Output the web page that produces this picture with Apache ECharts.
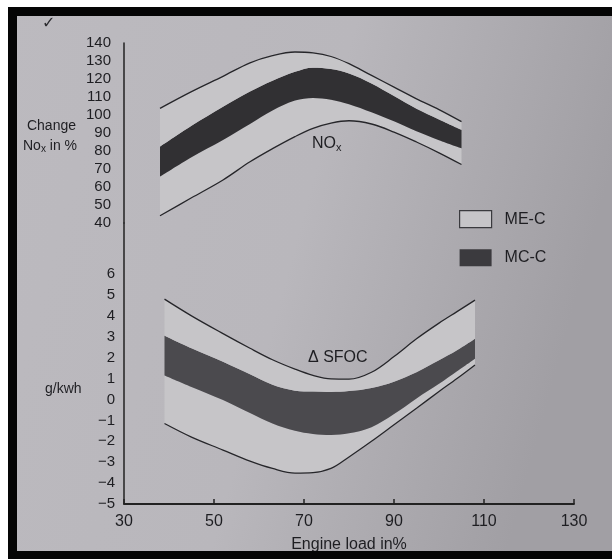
<!DOCTYPE html>
<html>
<head>
<meta charset="utf-8">
<script src="https://cdn.jsdelivr.net/npm/echarts@6/dist/echarts.min.js"></script>
<style>
html,body{margin:0;padding:0;background:#ffffff;}
#chart{width:612px;height:559px;}
</style>
</head>
<body>
<div id="chart"></div>
<script>
// ---- data ----
const xTickLabels = [30, 50, 70, 90, 110, 130];
const noxTicks = [40, 50, 60, 70, 80, 90, 100, 110, 120, 130, 140];
const sfocTicks = [-5, -4, -3, -2, -1, 0, 1, 2, 3, 4, 5, 6];

const xNox = [38, 45, 52, 58, 63, 68, 72, 76, 80, 85, 90, 95, 100, 105];
const noxUpper    = [103.7, 113, 121.5, 129, 133, 135, 134.5, 132.5, 128.5, 122, 115.5, 109, 103, 96.3];
const noxMcTop    = [82.4, 94, 104.6, 113, 119, 124, 126.3, 125.5, 123, 117.5, 110.5, 103.5, 97.5, 91.7];
const noxMcBottom = [65.7, 76.5, 86.1, 95, 102.5, 108, 109.5, 108.5, 106, 101.5, 96.5, 91, 86, 81.5];
const noxLower    = [44, 54, 63.9, 74, 81.3, 88, 92.6, 95.5, 96.8, 95, 90.5, 85, 79, 72.5];

const xSfoc = [39, 45, 52, 58, 63, 68, 72, 76, 80, 85, 90, 95, 100, 104, 108];
const sfocUpper    = [4.8, 4.0, 3.15, 2.45, 1.9, 1.45, 1.15, 0.98, 0.97, 1.3, 2.05, 2.9, 3.65, 4.2, 4.75];
const sfocMcTop    = [3.05, 2.45, 1.8, 1.2, 0.7, 0.42, 0.38, 0.36, 0.4, 0.55, 0.85, 1.3, 1.87, 2.35, 2.9];
const sfocMcBottom = [1.15, 0.6, -0.03, -0.65, -1.15, -1.5, -1.65, -1.7, -1.62, -1.33, -0.7, 0.05, 0.75, 1.35, 1.95];
const sfocLower    = [-1.15, -1.8, -2.42, -2.95, -3.3, -3.52, -3.5, -3.3, -2.75, -2.0, -1.21, -0.42, 0.38, 1.0, 1.65];

const seriesNames = ['ME-C', 'MC-C'];

// ---- styling ----
const FONT = "'Liberation Sans', Arial, sans-serif";
const LIGHT = '#c6c5c8';
const TXT = '#1e1e22';

function pairs(xs, vs) { return xs.map((x, i) => [x, vs[i]]); }
// stacked data: value first (dimension 0 gets stacked), x second
function stackPairs(xs, vs) { return xs.map((x, i) => [vs[i], x]); }
function diffs(hi, lo) { return hi.map((v, i) => +(v - lo[i]).toFixed(3)); }

function band(xs, lower, mcBottom, mcTop, upper, idx, dark) {
  const stack = 'band' + idx;
  const common = {
    type: 'line', xAxisIndex: idx, yAxisIndex: idx, stack: stack, stackStrategy: 'all',
    encode: { x: 1, y: 0 },
    smooth: 0.35, symbol: 'none', lineStyle: { width: 0, opacity: 0 }, silent: true
  };
  return [
    Object.assign({}, common, { data: stackPairs(xs, lower), itemStyle: { color: 'rgba(0,0,0,0)' } }),
    Object.assign({}, common, { name: 'ME-C', data: stackPairs(xs, diffs(mcBottom, lower)), itemStyle: { color: LIGHT }, areaStyle: { color: LIGHT, opacity: 1 } }),
    Object.assign({}, common, { name: 'MC-C', data: stackPairs(xs, diffs(mcTop, mcBottom)), itemStyle: { color: dark }, areaStyle: { color: dark, opacity: 1 } }),
    Object.assign({}, common, { name: 'ME-C', data: stackPairs(xs, diffs(upper, mcTop)), itemStyle: { color: LIGHT }, areaStyle: { color: LIGHT, opacity: 1 } }),
    { type: 'line', xAxisIndex: idx, yAxisIndex: idx, smooth: 0.35, symbol: 'none', silent: true, z: 5,
      data: pairs(xs, upper), lineStyle: { color: '#26262a', width: 1.3 } },
    { type: 'line', xAxisIndex: idx, yAxisIndex: idx, smooth: 0.35, symbol: 'none', silent: true, z: 5,
      data: pairs(xs, lower), lineStyle: { color: '#26262a', width: 1.3 } }
  ];
}

const chart = echarts.init(document.getElementById('chart'), null, { renderer: 'canvas' });

const option = {
  animation: false,
  backgroundColor: '#ffffff',
  textStyle: { fontFamily: FONT },
  grid: [
    { left: 124, top: 43, width: 450, height: 180 },
    { left: 124, top: 223, width: 450, height: 281 }
  ],
  xAxis: [
    { gridIndex: 0, type: 'value', min: 30, max: 130, show: false },
    { gridIndex: 1, type: 'value', min: xTickLabels[0], max: xTickLabels[xTickLabels.length - 1], interval: 20,
      axisLine: { onZero: false, lineStyle: { color: '#222', width: 1.8 } },
      axisTick: { show: true, inside: true, length: 5, lineStyle: { color: '#222', width: 1.5 } },
      splitLine: { show: false },
      axisLabel: { color: TXT, fontSize: 16, margin: 10, fontFamily: FONT },
      name: 'Engine load in%', nameLocation: 'middle', nameGap: 33,
      nameTextStyle: { color: TXT, fontSize: 16, fontFamily: FONT }
    }
  ],
  yAxis: [
    { gridIndex: 0, type: 'value', min: noxTicks[0], max: noxTicks[noxTicks.length - 1], interval: 10,
      axisLine: { show: true, onZero: false, lineStyle: { color: '#222', width: 1.5 } },
      axisTick: { show: false }, splitLine: { show: false },
      axisLabel: { color: TXT, fontSize: 15, margin: 13, fontFamily: FONT }
    },
    { gridIndex: 1, type: 'value', min: sfocTicks[0], max: 8.44, interval: 1,
      axisLine: { show: true, onZero: false, lineStyle: { color: '#222', width: 1.5 } },
      axisTick: { show: false }, splitLine: { show: false },
      axisLabel: { color: TXT, fontSize: 15, margin: 9, fontFamily: FONT, showMaxLabel: false,
        formatter: v => (sfocTicks.indexOf(v) < 0 ? '' : (v < 0 ? '\u2212' + Math.abs(v) : String(v))) }
    }
  ],
  legend: {
    orient: 'vertical', left: 454, top: 205, itemWidth: 32, itemHeight: 17, itemGap: 21,
    icon: 'rect', selectedMode: false,
    textStyle: { color: TXT, fontSize: 16, fontFamily: FONT, padding: [0, 0, 0, 8] },
    data: [
      { name: seriesNames[0], itemStyle: { color: LIGHT, borderColor: '#3a3a3e', borderWidth: 1.2 } },
      { name: seriesNames[1], itemStyle: { color: '#3b3a3e', borderWidth: 0 } }
    ]
  },
  graphic: [
    { type: 'rect', z: -100, silent: true, shape: { x: 0, y: 0, width: 612, height: 559 },
      style: { fill: { type: 'linear', x: 0, y: 0, x2: 1, y2: 0.3,
        colorStops: [{ offset: 0, color: '#bcbabf' }, { offset: 0.55, color: '#b9b7bc' }, { offset: 1, color: '#a19fa4' }] } } },
    { type: 'rect', z: 100, silent: true, shape: { x: 0, y: 0, width: 612, height: 7 }, style: { fill: '#ffffff' } },
    { type: 'rect', z: 100, silent: true, shape: { x: 0, y: 0, width: 8, height: 559 }, style: { fill: '#ffffff' } },
    { type: 'rect', z: 100, silent: true, shape: { x: 8, y: 7, width: 604, height: 9 }, style: { fill: '#050505' } },
    { type: 'rect', z: 100, silent: true, shape: { x: 8, y: 7, width: 9, height: 552 }, style: { fill: '#050505' } },
    { type: 'rect', z: 100, silent: true, shape: { x: 8, y: 551, width: 604, height: 8 }, style: { fill: '#050505' } },
    { type: 'text', z: 50, left: 42, top: 16, style: { text: '\u2713', fill: '#2a2a2e', font: '16px DejaVu Sans' } },
    { type: 'text', z: 50, right: 536, top: 119, style: { text: 'Change', fill: TXT, font: '14px ' + FONT, textAlign: 'right' } },
    { type: 'text', z: 50, right: 535, top: 139, style: {
        text: '{a|No}{s|x}{a| in %}', fill: TXT,
        rich: { a: { fontSize: 14, fontFamily: FONT, fill: TXT }, s: { fontSize: 10, fontFamily: FONT, fill: TXT, padding: [7, 0, 0, 0] } } } },
    { type: 'text', z: 50, left: 45, top: 382, style: { text: 'g/kwh', fill: TXT, font: '14px ' + FONT } },
    { type: 'text', z: 50, left: 312, top: 136, style: {
        text: '{a|NO}{s|x}', fill: TXT,
        rich: { a: { fontSize: 16, fontFamily: FONT, fill: TXT }, s: { fontSize: 11, fontFamily: FONT, fill: TXT, padding: [8, 0, 0, 0] } } } },
    { type: 'text', z: 50, left: 308, top: 350, style: { text: '\u0394 SFOC', fill: TXT, font: '16px ' + FONT } }
  ],
  series: [].concat(
    band(xNox, noxLower, noxMcBottom, noxMcTop, noxUpper, 0, '#313033'),
    band(xSfoc, sfocLower, sfocMcBottom, sfocMcTop, sfocUpper, 1, '#4b4a4e')
  )
};

chart.setOption(option);
</script>
</body>
</html>
